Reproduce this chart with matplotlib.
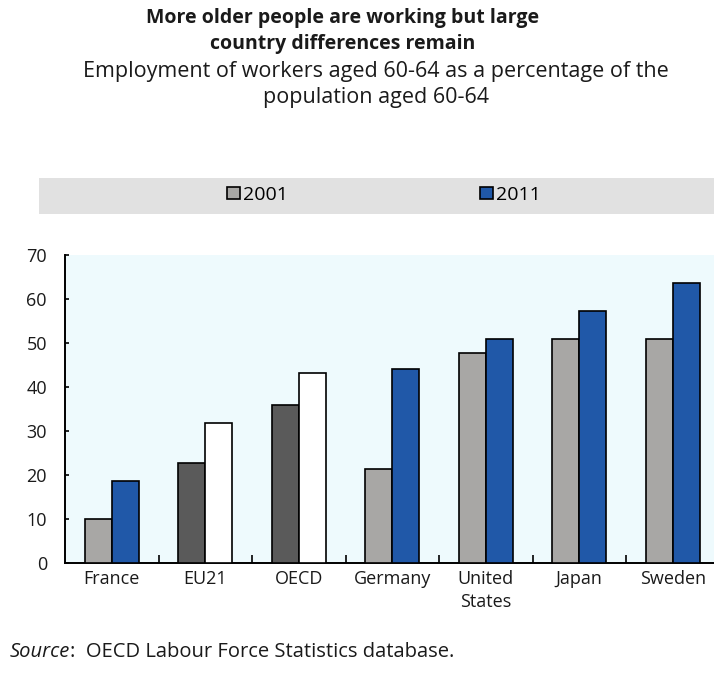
"""Employment rate of workers aged 60-64, 2001 vs 2011."""

import numpy as np
import matplotlib.pyplot as plt
from matplotlib.patches import Rectangle, Patch

countries = ['France', 'EU21', 'OECD', 'Germany', 'United\nStates', 'Japan', 'Sweden']
emp_2001 = [10.0, 22.8, 35.9, 21.3, 47.7, 50.9, 50.9]
emp_2011 = [18.7, 31.9, 43.1, 44.1, 50.9, 57.3, 63.6]
aggregates = ['EU21', 'OECD']  # drawn in dark grey / white
yticks = [0, 10, 20, 30, 40, 50, 60, 70]

GREY = '#a8a7a5'
BLUE = '#2058a8'
DARK = '#5a5a5a'
TXT = '#1a1a1a'
FS = 13

plt.rcParams['font.family'] = ['Open Sans', 'DejaVu Sans']

W, H = 714, 677
fig = plt.figure(figsize=(W / 100, H / 100), dpi=100)

def fx(px):
    return px / W

def fy(py):
    return 1 - py / H

# title + subtitle
fig.text(fx(343), fy(18), 'More older people are working but large', ha='center', va='center',
         fontsize=14, fontweight='bold', color=TXT)
fig.text(fx(343), fy(44), 'country differences remain', ha='center', va='center',
         fontsize=14, fontweight='bold', color=TXT)
fig.text(fx(376), fy(71), 'Employment of workers aged 60-64 as a percentage of the', ha='center',
         va='center', fontsize=15.5, color=TXT)
fig.text(fx(376), fy(98), 'population aged 60-64', ha='center', va='center', fontsize=15.5,
         color=TXT)

# legend band
fig.patches.append(Rectangle((fx(39), fy(214)), fx(714 - 39), (214 - 178) / H,
                             transform=fig.transFigure, facecolor='#e1e1e1', edgecolor='none',
                             zorder=0))

ax = fig.add_axes([fx(65), fy(563), (719.5 - 65) / W, (563 - 255) / H])
ax.set_facecolor('#eefafd')

x = np.arange(len(countries))
w = 0.29
col_a = [DARK if c in aggregates else GREY for c in countries]
col_b = ['white' if c in aggregates else BLUE for c in countries]
ax.bar(x - w / 2, emp_2001, w, color=col_a, edgecolor='black', linewidth=1.2, zorder=3)
ax.bar(x + w / 2, emp_2011, w, color=col_b, edgecolor='black', linewidth=1.2, zorder=3)

ax.set_xlim(-0.5, len(countries) - 0.5)
ax.set_ylim(0, 70)
ax.set_yticks(yticks)
ax.set_xticks(x)
ax.set_xticklabels(countries, fontsize=FS, color=TXT, linespacing=1.35)
ax.set_xticks(x[:-1] + 0.5, minor=True)
ax.tick_params(axis='x', which='major', length=0, pad=5)
ax.tick_params(axis='x', which='minor', direction='in', length=6, width=1.2)
ax.tick_params(axis='y', direction='in', length=3, width=1.2, pad=13, labelsize=FS,
               labelcolor=TXT)
for s in ['top', 'right']:
    ax.spines[s].set_visible(False)
for s in ['left', 'bottom']:
    ax.spines[s].set_linewidth(1.4)

handles = [Patch(facecolor=GREY, edgecolor='black', linewidth=1.2, label='2001'),
           Patch(facecolor=BLUE, edgecolor='black', linewidth=1.2, label='2011')]
fig.legend(handles=handles, loc='center left', bbox_to_anchor=(fx(227), fy(195)), ncol=2,
           frameon=False, fontsize=14, handlelength=0.67, handleheight=0.6,
           handletextpad=0.15, columnspacing=9.9, borderpad=0, borderaxespad=0)

# source note
src = fig.text(fx(10), fy(652), 'Source', ha='left', va='center', fontsize=14.5,
               style='italic', color=TXT)
fig.canvas.draw()
bb = src.get_window_extent()
fig.text(bb.x1 / W, fy(652), ':  OECD Labour Force Statistics database.', ha='left',
         va='center', fontsize=14.5, color=TXT)

fig.savefig('out.png', dpi=100)
